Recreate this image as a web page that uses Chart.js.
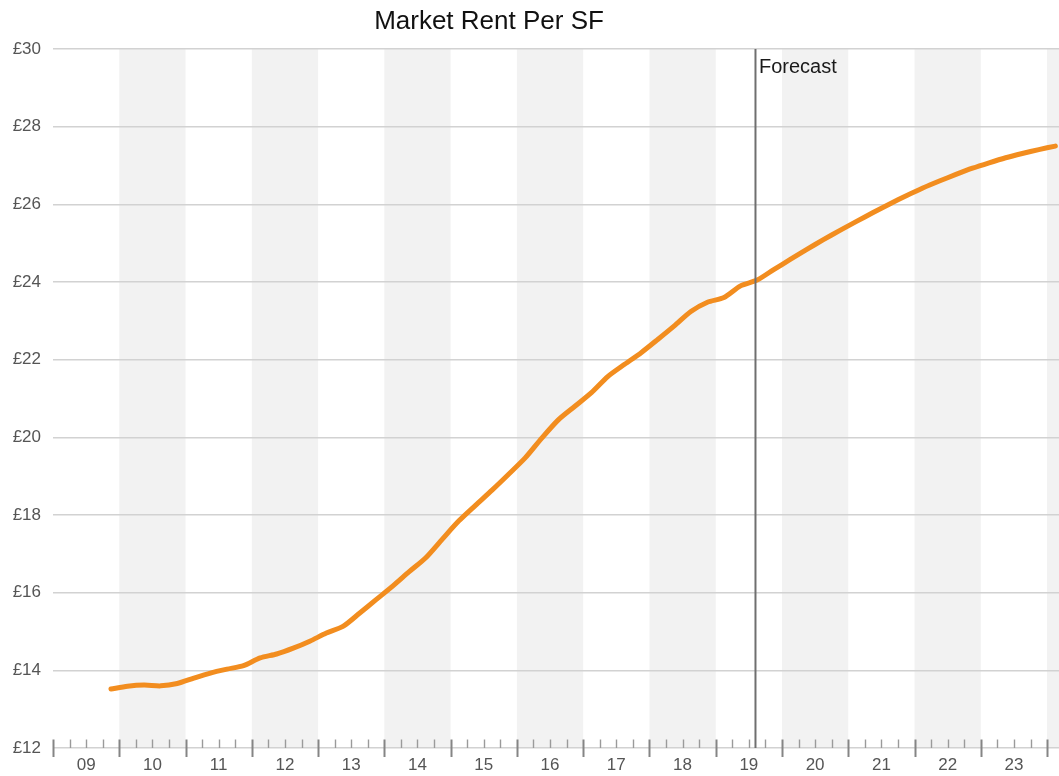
<!DOCTYPE html>
<html>
<head>
<meta charset="utf-8">
<title>Market Rent Per SF</title>
<script src="https://cdn.jsdelivr.net/npm/chart.js@4.4.1/dist/chart.umd.min.js"></script>
<style>
  html, body { margin: 0; padding: 0; background: #fff; }
  #wrap { position: relative; width: 1059px; height: 776px; }
  #title {
    position: absolute; left: 0; top: 7px; width: 978px;
    text-align: center; color: #111;
    font: 26px "Liberation Sans", Arial, sans-serif; line-height: 26px;
  }
</style>
</head>
<body>
<div id="wrap">
  <div id="title">Market Rent Per SF</div>
  <canvas id="chart"></canvas>
</div>
<script>
// Quarterly periods (history through mid-2019, forecast after)
const periods = [
  '2009 Q4',
  '2010 Q1', '2010 Q2', '2010 Q3', '2010 Q4',
  '2011 Q1', '2011 Q2', '2011 Q3', '2011 Q4',
  '2012 Q1', '2012 Q2', '2012 Q3', '2012 Q4',
  '2013 Q1', '2013 Q2', '2013 Q3', '2013 Q4',
  '2014 Q1', '2014 Q2', '2014 Q3', '2014 Q4',
  '2015 Q1', '2015 Q2', '2015 Q3', '2015 Q4',
  '2016 Q1', '2016 Q2', '2016 Q3', '2016 Q4',
  '2017 Q1', '2017 Q2', '2017 Q3', '2017 Q4',
  '2018 Q1', '2018 Q2', '2018 Q3', '2018 Q4',
  '2019 Q1', '2019 Q2', '2019 Q3', '2019 Q4',
  '2020 Q1', '2020 Q2', '2020 Q3', '2020 Q4',
  '2021 Q1', '2021 Q2', '2021 Q3', '2021 Q4',
  '2022 Q1', '2022 Q2', '2022 Q3', '2022 Q4',
  '2023 Q1', '2023 Q2', '2023 Q3', '2023 Q4',
  '2024 Q1'
];

// Market rent, £ per square foot
const rentPerSF = [
  13.52,
  13.59, 13.62, 13.60, 13.66,
  13.80, 13.93, 14.03, 14.12,
  14.32, 14.42, 14.57, 14.75,
  14.96, 15.13, 15.47, 15.82,
  16.17, 16.54, 16.90, 17.38,
  17.85, 18.25, 18.64, 19.05,
  19.47, 19.98, 20.45, 20.80,
  21.15, 21.57, 21.88, 22.18,
  22.52, 22.87, 23.24, 23.48,
  23.60, 23.90, 24.05, 24.32,
  24.58, 24.84, 25.09, 25.33,
  25.56, 25.79, 26.01, 26.22,
  26.42, 26.60, 26.77, 26.93,
  27.07, 27.20, 27.31, 27.41,
  27.50
];

// Year labels shown under each year span
const yearLabels = ['09', '10', '11', '12', '13', '14', '15', '16', '17', '18', '19', '20', '21', '22', '23'];
const firstYear = 2009;

// Rent axis range and step
const rentMin = 12;
const rentMax = 30;
const rentStep = 2;

// Where the forecast begins (fractional year)
const forecastStart = 2019.6;
const forecastLabel = 'Forecast';

// Period "2014 Q3" -> middle of that quarter on a year axis
function periodToYear(p) {
  const [y, q] = p.split(' Q').map(Number);
  return y + (q - 0.5) / 4;
}

const points = periods.map((p, i) => ({ x: periodToYear(p), y: rentPerSF[i] }));

const FONT = '"Liberation Sans", Arial, sans-serif';
Chart.defaults.font.family = FONT;

// Alternate year bands behind the grid
const yearBands = {
  id: 'yearBands',
  beforeDraw(chart) {
    const { ctx, chartArea: a, scales: { x } } = chart;
    ctx.save();
    ctx.fillStyle = '#f2f2f2';
    for (let yr = firstYear + 1; yr <= x.max; yr += 2) {
      const l = Math.max(x.getPixelForValue(yr), a.left);
      const r = Math.min(x.getPixelForValue(yr + 1), a.right);
      if (r > l) ctx.fillRect(l, a.top, r - l, a.bottom - a.top);
    }
    ctx.restore();
  }
};

// Year and quarter tick marks along the time axis
const quarterTicks = {
  id: 'quarterTicks',
  afterDraw(chart) {
    const { ctx, chartArea: a, scales: { x } } = chart;
    const base = a.bottom;
    ctx.save();
    for (let q = 0; firstYear + q / 4 <= x.max; q++) {
      const px = Math.round(x.getPixelForValue(firstYear + q / 4)) + 0.5;
      const major = q % 4 === 0;
      ctx.beginPath();
      ctx.strokeStyle = major ? '#858585' : '#9a9a9a';
      ctx.lineWidth = major ? 2 : 1.4;
      ctx.moveTo(px, base - 8.5);
      ctx.lineTo(px, major ? base + 9 : base);
      ctx.stroke();
    }
    ctx.restore();
  }
};

// Vertical marker where the forecast begins
const forecastMarker = {
  id: 'forecastMarker',
  afterDatasetsDraw(chart) {
    const { ctx, chartArea: a, scales: { x } } = chart;
    const px = x.getPixelForValue(forecastStart);
    ctx.save();
    ctx.beginPath();
    ctx.strokeStyle = '#6f6f6f';
    ctx.lineWidth = 2;
    ctx.moveTo(px, a.top);
    ctx.lineTo(px, a.bottom);
    ctx.stroke();
    ctx.fillStyle = '#1a1a1a';
    ctx.font = '20px ' + FONT;
    ctx.textAlign = 'left';
    ctx.textBaseline = 'alphabetic';
    ctx.fillText(forecastLabel, px + 3.5, a.top + 24);
    ctx.restore();
  }
};

new Chart(document.getElementById('chart'), {
  type: 'line',
  data: {
    datasets: [{
      label: 'Market Rent Per SF',
      data: points,
      borderColor: '#f28d1f',
      borderWidth: 5,
      pointRadius: 0,
      pointHoverRadius: 0,
      tension: 0.25,
      borderCapStyle: 'round',
      borderJoinStyle: 'round',
      fill: false
    }]
  },
  options: {
    responsive: true,
    maintainAspectRatio: false,
    animation: false,
    layout: { padding: { top: 49, left: 0, right: 0, bottom: 0 } },
    plugins: {
      legend: { display: false },
      tooltip: { enabled: false },
      title: { display: false }
    },
    scales: {
      x: {
        type: 'linear',
        min: firstYear,
        max: 2024.18,
        grid: { display: false, drawTicks: false },
        border: { display: false },
        afterBuildTicks(scale) {
          scale.ticks = yearLabels.map((_, i) => ({ value: firstYear + i + 0.5 }));
        },
        afterFit(scale) { scale.height = 28; },
        ticks: {
          autoSkip: false,
          maxRotation: 0,
          padding: 7,
          color: '#555',
          font: { size: 17 },
          callback(value) { return yearLabels[Math.floor(value) - firstYear]; }
        }
      },
      y: {
        min: rentMin,
        max: rentMax,
        afterFit(scale) { scale.width = 53; },
        grid: { color: '#d2d2d2', lineWidth: 1.6, drawTicks: false },
        border: { display: false },
        ticks: {
          stepSize: rentStep,
          padding: 12,
          color: '#555',
          font: { size: 17 },
          callback(value) { return '£' + value; }
        }
      }
    }
  },
  plugins: [yearBands, quarterTicks, forecastMarker]
});
</script>
</body>
</html>
